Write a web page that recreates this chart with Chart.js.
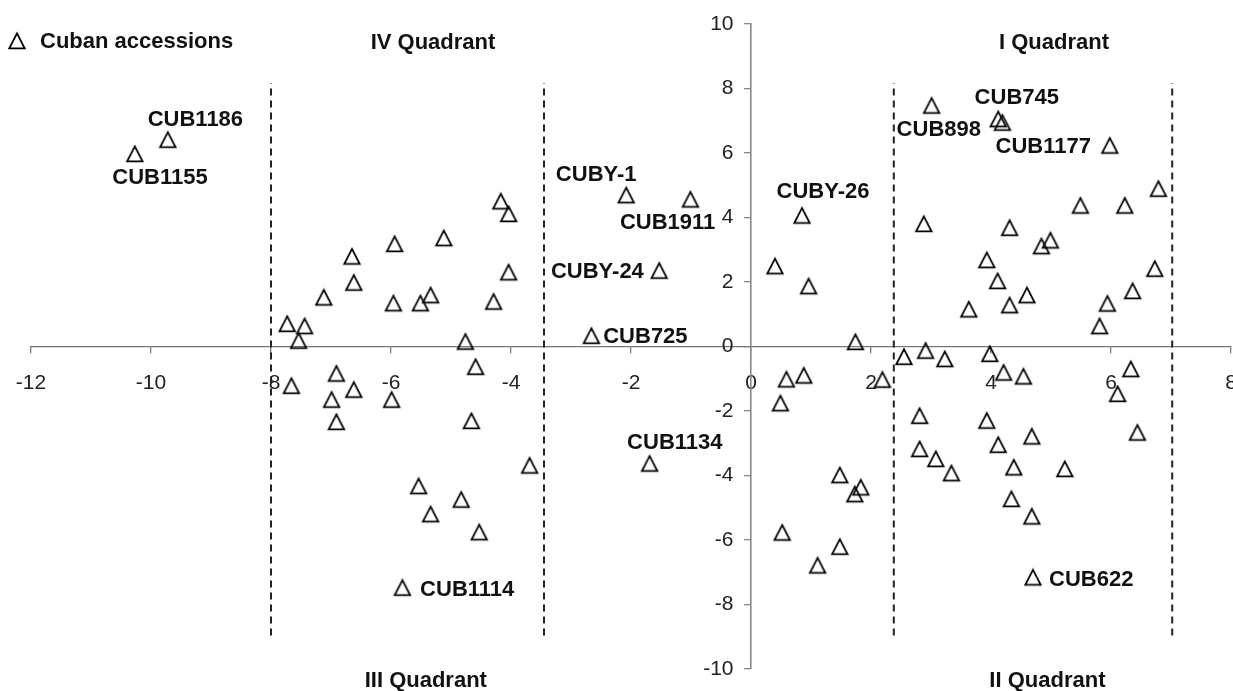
<!DOCTYPE html>
<html>
<head>
<meta charset="utf-8">
<script src="https://cdn.jsdelivr.net/npm/chart.js@4.4.1/dist/chart.umd.min.js"></script>
<style>
    html, body { margin: 0; padding: 0; background: #fff; overflow: hidden; }
    canvas { display: block; }
</style>
</head>
<body>
<canvas id="pcaChart" width="1233" height="691"></canvas>
<script>
// accessions, PC1 / PC2 scores
const accessionX = [
    -10.27, -9.72, -7.73, -7.44, -7.54, -7.66, -7.12, -6.65, -6.62, -5.94,
    -5.96, -5.51, -5.34, -5.12, -4.17, -4.04, -4.04, -4.29, -4.76, -4.59,
    -4.66, -6.91, -6.62, -6.99, -5.99, -6.91, -3.69, -5.54, -5.34, -4.83,
    -4.53, -5.81,
    -2.08, -1.01, -1.53, -2.66, -1.69, 0.85, 0.40, 0.96, 0.59, 0.88,
    0.49, 1.74, 2.19, 1.48, 1.73, 1.83, 1.48, 1.11, 0.52,
    3.01, 4.12, 4.19, 5.98, 6.79, 5.49, 6.23, 2.88, 4.31, 4.84,
    4.99, 3.93, 4.11, 4.60, 4.31, 3.63, 6.73, 6.36, 5.94, 5.81,
    2.55, 2.91, 3.23, 3.98, 4.21, 4.54, 6.33, 6.11, 6.44, 2.81,
    3.93, 4.12, 4.68, 2.81, 3.08, 3.34, 4.38, 5.23, 4.34, 4.68, 4.70
];
const accessionY = [
    5.97, 6.41, 0.70, 0.63, 0.18, -1.22, 1.52, 2.79, 1.98, 3.18,
    1.34, 1.34, 1.59, 3.36, 4.50, 4.11, 2.30, 1.39, 0.15, -0.63,
    -2.31, -0.84, -1.34, -1.65, -1.65, -2.34, -3.69, -4.33, -5.20, -4.75,
    -5.76, -7.48,
    4.69, 4.56, 2.35, 0.33, -3.63, 4.06, 2.49, 1.87, -1.02, -0.90,
    -1.76, 0.14, -1.03, -3.99, -4.58, -4.37, -6.21, -6.79, -5.77,
    7.47, 7.05, 6.94, 6.23, 4.89, 4.37, 4.37, 3.80, 3.68, 3.11,
    3.29, 2.68, 2.03, 1.59, 1.28, 1.15, 2.41, 1.72, 1.33, 0.63,
    -0.32, -0.13, -0.39, -0.23, -0.81, -0.93, -0.70, -1.47, -2.67, -2.15,
    -2.30, -3.05, -2.79, -3.18, -3.49, -3.93, -3.75, -3.80, -4.73, -5.27, -7.16
];

// named accessions and where their label sits (plot units)
const labelNames = ["CUB1186", "CUB1155", "CUBY-1", "CUB1911", "CUBY-26", "CUB745", "CUB898",
    "CUB1177", "CUBY-24", "CUB725", "CUB1134", "CUB1114", "CUB622"];
const labelX = [-9.26, -9.85, -2.58, -1.39, 1.20, 4.43, 3.13, 4.87, -2.56, -1.76, -1.27, -4.73, 5.67];
const labelY = [7.04, 5.24, 5.31, 3.83, 4.78, 7.70, 6.71, 6.20, 2.30, 0.31, -2.99, -7.56, -7.25];

const quadrantNames = ["IV Quadrant", "I Quadrant", "III Quadrant", "II Quadrant"];
const quadrantX = [-5.30, 5.05, -5.42, 4.94];
const quadrantY = [9.41, 9.41, -10.36, -10.36];

// dashed quadrant borders
const dividerX = [-8, -3.45, 2.38, 7.02];
const dividerYMin = -8.96;
const dividerYMax = 8.17;

const xTicks = [-12, -10, -8, -6, -4, -2, 0, 2, 4, 6, 8];
const yTicks = [-10, -8, -6, -4, -2, 0, 2, 4, 6, 8, 10];

const FONT = '"Liberation Sans", Arial, sans-serif';

function makeTriangle() {
    const c = document.createElement("canvas");
    c.width = 20;
    c.height = 20;
    const g = c.getContext("2d");
    g.strokeStyle = "#000";
    g.lineWidth = 1.8;
    g.lineJoin = "miter";
    g.beginPath();
    g.moveTo(10, 2.4);
    g.lineTo(17.7, 17.3);
    g.lineTo(2.3, 17.3);
    g.closePath();
    g.stroke();
    return c;
}
const triangle = makeTriangle();

const points = accessionX.map((x, i) => ({ x: x, y: accessionY[i] }));

const dividerSets = dividerX.map(x => ({
    data: [{ x: x, y: dividerYMin }, { x: x, y: dividerYMax }],
    showLine: true,
    borderColor: "#222",
    borderWidth: 2,
    borderDash: [7, 5],
    pointRadius: 0,
    order: 2
}));

const textPlugin = {
    id: "pcaText",
    afterDraw(chart) {
        const ctx = chart.ctx;
        const xs = chart.scales.x;
        const ys = chart.scales.y;
        ctx.save();
        ctx.fillStyle = "#111";
        ctx.textBaseline = "middle";
        ctx.textAlign = "center";
        ctx.font = "bold 22px " + FONT;

        labelNames.forEach((name, i) => {
            ctx.fillText(name, xs.getPixelForValue(labelX[i]), ys.getPixelForValue(labelY[i]));
        });
        quadrantNames.forEach((name, i) => {
            ctx.fillText(name, xs.getPixelForValue(quadrantX[i]), ys.getPixelForValue(quadrantY[i]));
        });

        // legend, top left
        const lx = chart.chartArea.left - 14;
        const ly = chart.chartArea.top + 17;
        ctx.drawImage(triangle, lx - 10, ly - 10);
        ctx.textAlign = "left";
        ctx.fillText("Cuban accessions", lx + 23, ly + 1);
        ctx.restore();
    }
};

new Chart(document.getElementById("pcaChart"), {
    type: "scatter",
    data: {
        datasets: [{
            label: "Cuban accessions",
            data: points,
            pointStyle: triangle,
            pointRadius: 10,
            pointHoverRadius: 10,
            order: 1
        }].concat(dividerSets)
    },
    options: {
        responsive: false,
        animation: false,
        events: [],
        layout: {
            autoPadding: false,
            padding: { left: 31, right: 2, top: 24, bottom: 22 }
        },
        plugins: {
            legend: { display: false },
            tooltip: { enabled: false }
        },
        scales: {
            x: {
                type: "linear",
                min: -12,
                max: 8,
                position: { y: 0 },
                afterFit(scale) {
                    scale.height = 0;
                    scale.paddingLeft = 0;
                    scale.paddingRight = 0;
                },
                afterBuildTicks(scale) {
                    scale.ticks = xTicks.map(v => ({ value: v }));
                },
                grid: {
                    drawOnChartArea: false,
                    drawTicks: true,
                    tickLength: 6,
                    color: "#777",
                    lineWidth: 1.3
                },
                border: { display: true, color: "#777", width: 1.3 },
                ticks: {
                    padding: 18,
                    color: "#222",
                    maxRotation: 0,
                    autoSkip: false,
                    font: { family: FONT, size: 21 }
                }
            },
            y: {
                type: "linear",
                min: -10,
                max: 10,
                position: { x: 0 },
                afterFit(scale) {
                    scale.width = 0;
                    scale.paddingTop = 0;
                    scale.paddingBottom = 0;
                    scale.paddingLeft = 0;
                    scale.paddingRight = 0;
                },
                afterBuildTicks(scale) {
                    scale.ticks = yTicks.map(v => ({ value: v }));
                },
                grid: {
                    drawOnChartArea: false,
                    drawTicks: true,
                    tickLength: 6,
                    color: "#888",
                    lineWidth: 1.3
                },
                border: { display: true, color: "#888", width: 1.6 },
                ticks: {
                    color: "#222",
                    autoSkip: false,
                    font: { family: FONT, size: 21 },
                    // centred axes ignore tick padding, so pad the label itself
                    callback: v => v + "   "
                }
            }
        }
    },
    plugins: [textPlugin]
});
</script>
</body>
</html>
